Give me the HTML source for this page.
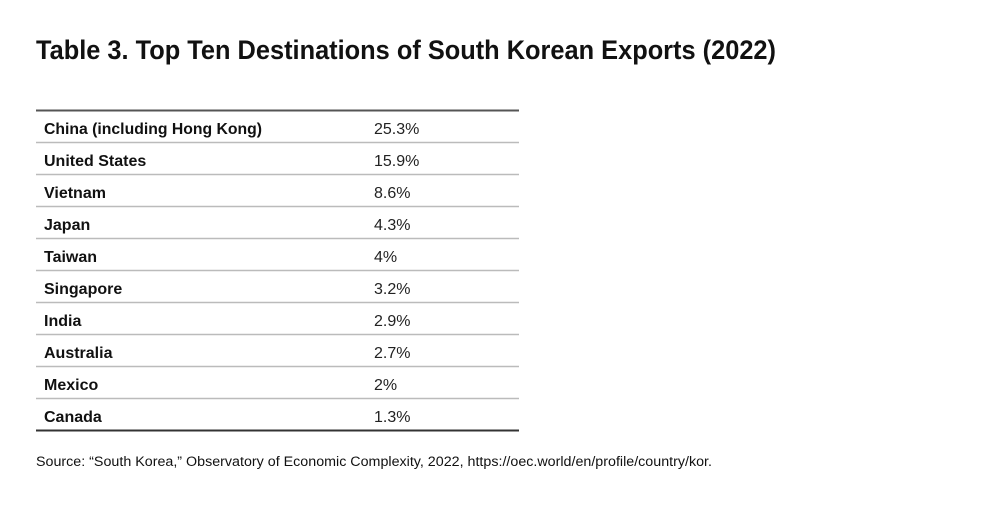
<!DOCTYPE html>
<html><head><style>
html,body{margin:0;padding:0;background:#fff;}
svg{display:block}
text{font-family:"Liberation Sans",sans-serif;fill:#111;}
.b{font-weight:bold;font-size:16px;}
.v{font-size:16px;fill:#222;}
</style></head><body>
<svg width="1000" height="507" viewBox="0 0 1000 507">
<text x="36" y="59" font-size="27" font-weight="bold" textLength="740" lengthAdjust="spacingAndGlyphs">Table 3. Top Ten Destinations of South Korean Exports (2022)</text>
<line x1="36" y1="110.5" x2="519" y2="110.5" stroke="#555" stroke-width="2"/>
<g stroke="#bbb" stroke-width="1.5">
<line x1="36" y1="142.5" x2="519" y2="142.5"/>
<line x1="36" y1="174.5" x2="519" y2="174.5"/>
<line x1="36" y1="206.5" x2="519" y2="206.5"/>
<line x1="36" y1="238.5" x2="519" y2="238.5"/>
<line x1="36" y1="270.5" x2="519" y2="270.5"/>
<line x1="36" y1="302.5" x2="519" y2="302.5"/>
<line x1="36" y1="334.5" x2="519" y2="334.5"/>
<line x1="36" y1="366.5" x2="519" y2="366.5"/>
<line x1="36" y1="398.5" x2="519" y2="398.5"/>
</g>
<line x1="36" y1="430.5" x2="519" y2="430.5" stroke="#333" stroke-width="2"/>
<g class="b">
<text class="b" x="44" y="134" textLength="218" lengthAdjust="spacingAndGlyphs">China (including Hong Kong)</text>
<text class="b" x="44" y="166">United States</text>
<text class="b" x="44" y="198">Vietnam</text>
<text class="b" x="44" y="230">Japan</text>
<text class="b" x="44" y="262">Taiwan</text>
<text class="b" x="44" y="294">Singapore</text>
<text class="b" x="44" y="326">India</text>
<text class="b" x="44" y="358">Australia</text>
<text class="b" x="44" y="390">Mexico</text>
<text class="b" x="44" y="422">Canada</text>
</g>
<text class="v" x="374" y="134">25.3%</text>
<text class="v" x="374" y="166">15.9%</text>
<text class="v" x="374" y="198">8.6%</text>
<text class="v" x="374" y="230">4.3%</text>
<text class="v" x="374" y="262">4%</text>
<text class="v" x="374" y="294">3.2%</text>
<text class="v" x="374" y="326">2.9%</text>
<text class="v" x="374" y="358">2.7%</text>
<text class="v" x="374" y="390">2%</text>
<text class="v" x="374" y="422">1.3%</text>
<text x="36" y="466" font-size="13.5" fill="#222" textLength="676" lengthAdjust="spacingAndGlyphs">Source: “South Korea,” Observatory of Economic Complexity, 2022, https://oec.world/en/profile/country/kor.</text>
</svg>
</body></html>
